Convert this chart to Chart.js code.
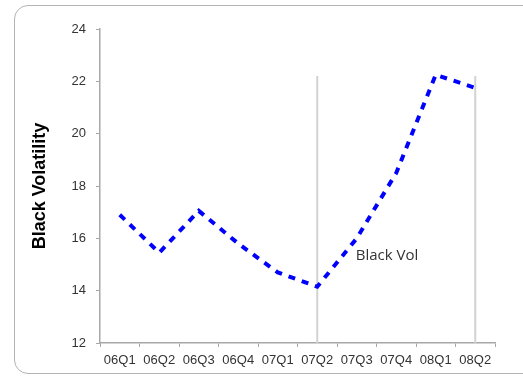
<!DOCTYPE html>
<html>
<head>
<meta charset="utf-8">
<script src="https://cdn.jsdelivr.net/npm/chart.js@4.4.0/dist/chart.umd.min.js"></script>
<style>
    html, body { margin: 0; padding: 0; background: #fff; overflow: hidden; }
    #wrap { position: relative; width: 523px; height: 376px; }
    #frame {
        position: absolute; left: 14px; top: 5px; width: 560px; height: 367px;
        border: 1.5px solid #b4b4b4; border-radius: 14px;
    }
    #volChart { position: absolute; left: 0; top: 0; }
</style>
</head>
<body>
<div id="wrap">
    <div id="frame"></div>
    <canvas id="volChart" width="523" height="376"></canvas>
</div>
<script>
    const quarters = ['06Q1', '06Q2', '06Q3', '06Q4', '07Q1', '07Q2', '07Q3', '07Q4', '08Q1', '08Q2'];
    const blackVol = [16.9, 15.45, 17.05, 15.8, 14.7, 14.15, 16.0, 18.5, 22.25, 21.75];
    const markerQuarters = ['07Q2', '08Q2'];
    const markerTop = 22.2;
    const yTicks = [12, 14, 16, 18, 20, 22, 24];
    const seriesLabel = 'Black Vol';

    // gray vertical marker lines, one dataset per quarter
    const markerSets = markerQuarters.map(function (q) {
        return {
            label: 'marker ' + q,
            data: [{x: q, y: yTicks[0]}, {x: q, y: markerTop}],
            borderColor: '#d2d2d2',
            borderWidth: 2,
            pointRadius: 0,
            fill: false
        };
    });

    const seriesText = {
        id: 'seriesText',
        afterDatasetsDraw: function (chart) {
            const c = chart.ctx;
            const xs = chart.scales.x, ys = chart.scales.y;
            c.save();
            c.font = '15px "Open Sans"';
            c.fillStyle = '#333';
            c.textBaseline = 'middle';
            c.fillText(seriesLabel, xs.getPixelForValue(6) - 1, ys.getPixelForValue(15.35));
            c.restore();
        }
    };

    const ctx = document.getElementById('volChart').getContext('2d');
    const volChart = new Chart(ctx, {
        type: 'line',
        data: {
            labels: quarters,
            datasets: [{
                label: seriesLabel,
                data: blackVol,
                borderColor: '#0000ff',
                borderWidth: 4,
                borderDash: [7, 7],
                pointRadius: 0,
                tension: 0,
                fill: false
            }].concat(markerSets)
        },
        options: {
            responsive: false,
            animation: false,
            layout: {padding: {top: 29, right: 28, bottom: 0, left: 0}},
            plugins: {
                legend: {display: false},
                tooltip: {enabled: false}
            },
            scales: {
                x: {
                    type: 'category',
                    offset: true,
                    grid: {offset: true, drawOnChartArea: false, drawTicks: true, tickLength: 4, color: '#a8a8a8'},
                    border: {color: '#a8a8a8', width: 1.5},
                    ticks: {color: '#333', font: {family: 'Liberation Sans', size: 13}, padding: 6, maxRotation: 0, autoSkip: false},
                    afterFit: function (s) { s.height = 33; }
                },
                y: {
                    min: 12,
                    max: 24,
                    afterBuildTicks: function (s) { s.ticks = yTicks.map(function (v) { return {value: v}; }); },
                    grid: {drawOnChartArea: false, drawTicks: true, tickLength: 4, color: '#a8a8a8'},
                    border: {color: '#a8a8a8', width: 1.5},
                    ticks: {color: '#333', font: {family: 'Liberation Sans', size: 13}, padding: 10},
                    title: {
                        display: true,
                        text: 'Black Volatility',
                        color: '#000',
                        font: {family: 'Liberation Sans', size: 18, weight: 'bold'},
                        padding: {top: 29, bottom: 0}
                    },
                    afterFit: function (s) { s.width = 100; }
                }
            }
        },
        plugins: [seriesText]
    });
</script>
</body>
</html>
